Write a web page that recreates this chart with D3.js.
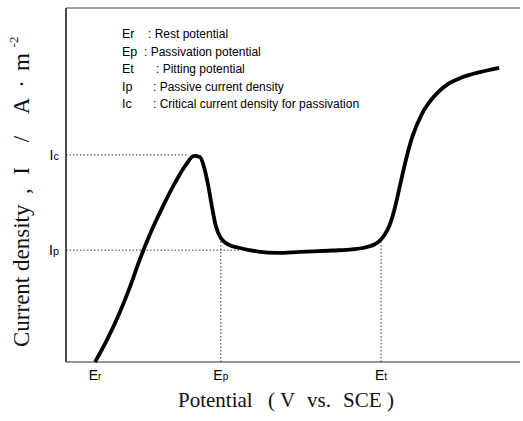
<!DOCTYPE html>
<html>
<head>
<meta charset="utf-8">
<script src="https://cdn.jsdelivr.net/npm/d3@7"></script>
<style>
  body { margin: 0; background: #fff; }
  svg { display: block; }
  .serif { font-family: "Liberation Serif", "Times New Roman", serif; fill: #111; }
  .sans { font-family: "Liberation Sans", Arial, sans-serif; fill: #000; }
  .guide { stroke: #333; stroke-width: 1; stroke-dasharray: 1.5,2; fill: none; }
</style>
</head>
<body>
<div id="chart"></div>
<script>
// polarization curve (arbitrary units 0-100 on both axes)
var potential = [6.4, 9.0, 11.5, 13.9, 16.3, 18.7, 21.4, 24.0, 26.4, 28.2, 29.5, 30.4, 31.3, 32.2, 33.0, 34.1, 35.9, 38.3, 42.3, 46.5, 51.5, 58.8, 63.0, 66.3, 68.5, 70.0, 71.2, 72.3, 73.4, 74.7, 76.2, 78.4, 81.1, 84.1, 87.4, 91.2, 95.4];
var current = [0, 6.2, 13.0, 20.6, 29.1, 36.7, 44.1, 50.6, 55.7, 58.2, 57.9, 55.1, 50.0, 43.5, 38.4, 35.0, 33.1, 32.2, 31.2, 30.8, 31.1, 31.5, 31.8, 32.5, 33.6, 35.6, 38.4, 42.9, 48.9, 56.2, 63.3, 70.1, 75.1, 78.5, 80.5, 81.9, 83.1];

// marked potentials on the x axis
var potentialNames = ['E', 'E', 'E'];
var potentialSubs = ['r', 'p', 't'];
var potentialValues = [6.4, 34.1, 69.4];

// marked current densities on the y axis
var currentNames = ['I', 'I'];
var currentSubs = ['c', 'p'];
var currentValues = [58.5, 31.6];
var currentGuideEnds = [27, 38.3];

// legend
var legendSymbols = ['Er', 'Ep', 'Et', 'Ip', 'Ic'];
var legendTexts = ['Rest potential', 'Passivation potential', 'Pitting potential', 'Passive current density', 'Critical current density for passivation'];
var legendColon = [148, 144, 156, 153, 153];

var width = 523, height = 421;
var margin = {top: 8, right: 3, bottom: 59, left: 66};

var x = d3.scaleLinear().domain([0, 100]).range([margin.left, width - margin.right]);
var y = d3.scaleLinear().domain([0, 100]).range([height - margin.bottom, margin.top]);

var svg = d3.select("#chart").append("svg")
  .attr("width", width)
  .attr("height", height);

// frame: left, top and bottom lines only
svg.append("line")
  .attr("x1", x(0)).attr("x2", x(0)).attr("y1", y(0)).attr("y2", y(100))
  .attr("stroke", "#111").attr("stroke-width", 1.5);
svg.append("line")
  .attr("x1", x(0)).attr("x2", x(100)).attr("y1", y(100)).attr("y2", y(100))
  .attr("stroke", "#444").attr("stroke-width", 1);
svg.append("line")
  .attr("x1", x(0)).attr("x2", x(100)).attr("y1", y(0)).attr("y2", y(0))
  .attr("stroke", "#333").attr("stroke-width", 1.2);

// value of the curve at a potential, linear between read points
var curveAt = function (p) {
  var i = d3.bisectLeft(potential, p);
  if (i <= 0) return current[0];
  if (i >= potential.length) return current[current.length - 1];
  var t = (p - potential[i - 1]) / (potential[i] - potential[i - 1]);
  return current[i - 1] + t * (current[i] - current[i - 1]);
};

// dotted guides
currentValues.forEach(function (v, i) {
  svg.append("line").attr("class", "guide")
    .attr("x1", x(0)).attr("x2", x(currentGuideEnds[i]))
    .attr("y1", y(v)).attr("y2", y(v));
});
potentialValues.slice(1).forEach(function (p) {
  svg.append("line").attr("class", "guide")
    .attr("x1", x(p)).attr("x2", x(p))
    .attr("y1", y(0)).attr("y2", y(curveAt(p)));
});

// the curve
var line = d3.line()
  .x(function (d) { return x(d[0]); })
  .y(function (d) { return y(d[1]); })
  .curve(d3.curveMonotoneX);

svg.append("path")
  .datum(d3.zip(potential, current))
  .attr("d", line)
  .attr("fill", "none")
  .attr("stroke", "#000")
  .attr("stroke-width", 3.8)
  .attr("stroke-linecap", "butt")
  .attr("stroke-linejoin", "round");

// potential labels under the axis
potentialValues.forEach(function (p, i) {
  var t = svg.append("text").attr("class", "sans")
    .attr("x", x(p)).attr("y", y(0) + 18)
    .attr("text-anchor", "middle")
    .style("font-size", "14px");
  t.append("tspan").text(potentialNames[i]);
  t.append("tspan").style("font-size", "10px").text(potentialSubs[i]);
});

// current labels left of the axis
currentValues.forEach(function (v, i) {
  var t = svg.append("text").attr("class", "sans")
    .attr("x", x(0) - 7).attr("y", y(v) + 5)
    .attr("text-anchor", "end")
    .style("font-size", "14px");
  t.append("tspan").text(currentNames[i]);
  t.append("tspan").style("font-size", "11px").text(currentSubs[i]);
});

// legend
legendSymbols.forEach(function (s, i) {
  var yy = 38 + i * 17.5;
  svg.append("text").attr("class", "sans")
    .attr("x", 122).attr("y", yy)
    .style("font-size", "12.5px")
    .text(s);
  svg.append("text").attr("class", "sans")
    .attr("x", legendColon[i]).attr("y", yy)
    .style("font-size", "12px")
    .text(": " + legendTexts[i]);
});

// x axis title
var xt = svg.append("text").attr("class", "serif")
  .attr("x", 178).attr("y", 407)
  .style("font-size", "21px");
xt.append("tspan").text("Potential");
xt.append("tspan").attr("x", 268).text("(");
xt.append("tspan").attr("x", 280).text("V");
xt.append("tspan").attr("x", 307).text("vs.");
xt.append("tspan").attr("x", 343).text("SCE");
xt.append("tspan").attr("x", 387).text(")");

// y axis title, pieces spread along the axis
var yTitle = svg.append("g").attr("transform", "translate(29,347) rotate(-90)");
yTitle.append("text").attr("class", "serif")
  .style("font-size", "23px")
  .text("Current density");
var yPieces = [",", "I", "/", "A", "\u00b7", "m"];
var yPieceAt = [156, 176, 208, 241, 263, 285];
yPieces.forEach(function (s, i) {
  yTitle.append("text").attr("class", "serif")
    .attr("x", yPieceAt[i]).attr("text-anchor", "middle")
    .style("font-size", "23px")
    .text(s);
});
yTitle.append("text").attr("class", "serif")
  .attr("x", 305).attr("y", -11).attr("text-anchor", "middle")
  .style("font-size", "13px")
  .text("-2");
</script>
</body>
</html>
